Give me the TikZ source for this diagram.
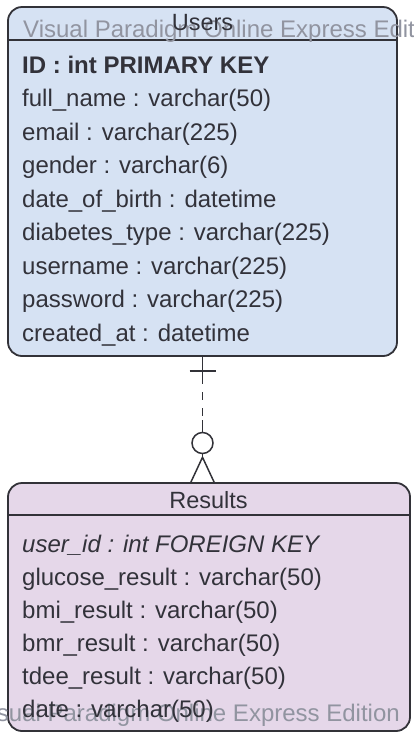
\documentclass[tikz,border=0pt]{standalone}
\usepackage{fontspec}
\setmainfont{Liberation Sans}
\usetikzlibrary{calc}
\definecolor{usersfill}{RGB}{214,226,243}
\definecolor{resultsfill}{RGB}{229,215,233}
\definecolor{edge}{RGB}{50,50,56}
\definecolor{ink}{RGB}{50,50,58}
\definecolor{wmgray}{RGB}{145,148,160}
\begin{document}
\begin{tikzpicture}[x=1pt,y=-1pt,
  entity/.style={draw=edge, line width=1.8pt, rounded corners=14pt,
                 anchor=north west, inner sep=0pt, outer sep=0pt},
  sepline/.style={draw=edge, line width=1.6pt},
  field/.style={anchor=base west, inner sep=0pt, text=ink,
                font=\fontsize{24}{28}\selectfont},
  heading/.style={anchor=base, inner sep=0pt, text=ink,
                  font=\fontsize{23.5}{28}\selectfont},
  wmark/.style={inner sep=0pt, text=wmgray, font=\fontsize{24}{28}\selectfont},
  conn/.style={draw=edge, line width=1.5pt},
]
\path[use as bounding box] (0,0) rectangle (414,732);
\clip (0,0) rectangle (414,732);

% ---- Users entity ----
\node[entity, fill=usersfill, minimum width=389pt, minimum height=349pt] (users) at (8,7) {};
\draw[sepline] ($(users.north west)+(0,33)$) -- ($(users.north east)+(0,33)$);

% ---- Results entity ----
\node[entity, fill=resultsfill, minimum width=402pt, minimum height=248pt] (results) at (8,483) {};
\draw[sepline] ($(results.north west)+(0,32)$) -- ($(results.north east)+(0,32)$);

% ---- edition watermarks ----
\node[wmark, anchor=base west] (wmtop) at (23,37) {Visual Paradigm Online Express Edition};
\node[wmark, anchor=base east] (wmbottom) at (400,721) {Visual Paradigm Online Express Edition};

% ---- Users columns ----
\node[heading] (userstitle) at (202.5,30) {Users};
\node[field, font=\fontsize{24}{28}\selectfont\bfseries] (u1) at (22,73) {ID : int PRIMARY KEY};
\foreach \txt [count=\i from 2] in {
  full\_name : varchar(50),
  email : varchar(225),
  gender : varchar(6),
  date\_of\_birth : datetime,
  diabetes\_type : varchar(225),
  username : varchar(225),
  password : varchar(225),
  created\_at : datetime}
  \node[field] (u\i) at (22,{73+33.5*(\i-1)}) {\txt};

% ---- Results columns ----
\node[heading] (resultstitle) at (208.5,508) {Results};
\node[field, font=\fontsize{24}{28}\selectfont\itshape] (r1) at (22,552) {user\_id : int FOREIGN KEY};
\foreach \txt [count=\i from 2] in {
  glucose\_result : varchar(50),
  bmi\_result : varchar(50),
  bmr\_result : varchar(50),
  tdee\_result : varchar(50),
  date : varchar(50)}
  \node[field] (r\i) at (22,{552+33*(\i-1)}) {\txt};

% ---- relationship: one Users to zero-or-many Results ----
\coordinate (relbot) at (results.north -| users.south);
\draw[conn] (users.south) -- ++(0,20) coordinate (dashstart);
\draw[conn] ($(users.south)+(-13,15)$) -- ($(users.south)+(13,15)$);
\node[circle, draw=edge, line width=1.5pt, fill=white, minimum size=21pt,
      inner sep=0pt] (optional) at ($(relbot)+(0,-40)$) {};
\draw[conn] (optional.north) -- ++(0,-12) coordinate (dashend);
\draw[conn, dash pattern=on 8pt off 8pt] (dashstart) -- (dashend);
\coordinate (footapex) at ($(optional.south)+(0,3)$);
\draw[conn] (optional.south) -- (footapex);
\draw[conn] ($(relbot)+(-12,0)$) -- (footapex) -- ($(relbot)+(12,0)$);
\end{tikzpicture}
\end{document}
